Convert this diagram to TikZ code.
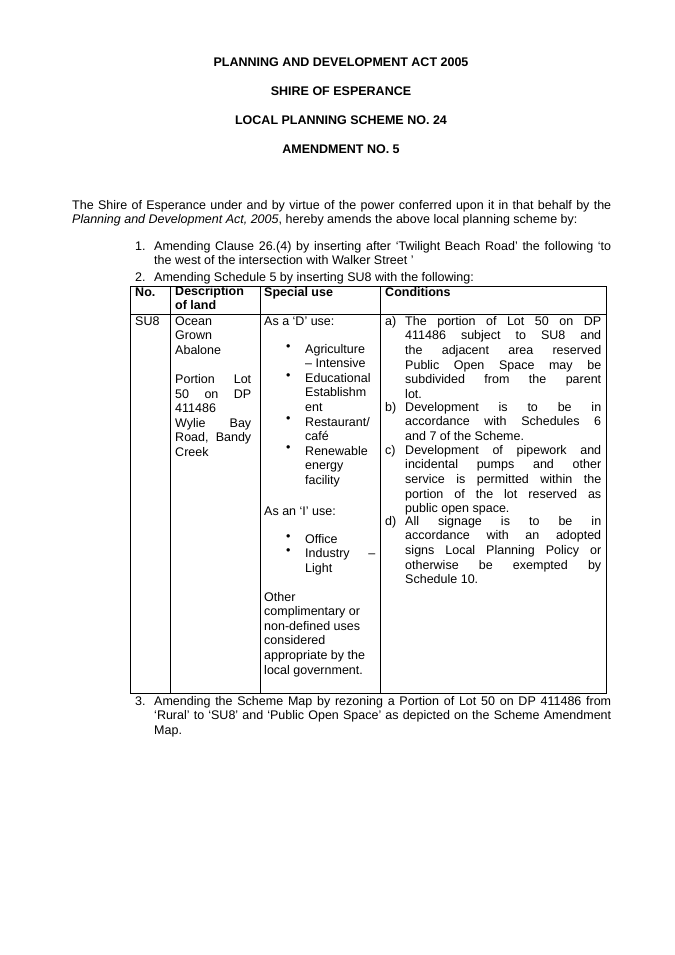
\documentclass[tikz,border=0pt]{standalone}
\usepackage{fontspec}
\setmainfont{Liberation Sans}
\usetikzlibrary{positioning}
\begin{document}
\begin{tikzpicture}[
    x=0.88pt, y=-0.88pt,
    font=\fontsize{11pt}{12.8pt}\selectfont,
    title/.style={font=\fontsize{11pt}{12.8pt}\selectfont\bfseries, anchor=center},
    para/.style={anchor=north west, inner sep=0pt, align=justify, execute at begin node=\strut},
    cell/.style={anchor=north west, inner sep=0pt, align=left, execute at begin node=\strut},
    head/.style={cell, font=\fontsize{11pt}{12.8pt}\selectfont\bfseries},
    grid/.style={line width=0.5pt}
]
\useasboundingbox (0,0) rectangle (675,955);

% headings
\node[title] (act) at (341,62) {PLANNING AND DEVELOPMENT ACT 2005};
\node[title] (shire) at (341,91) {SHIRE OF ESPERANCE};
\node[title] (scheme) at (341,120) {LOCAL PLANNING SCHEME NO. 24};
\node[title] (amend) at (341,149) {AMENDMENT NO. 5};

% intro
\node[para, text width=539*0.88pt] (intro) at (72,199) {The Shire of Esperance under and by virtue of the power conferred upon it in that behalf by the\linebreak \textit{Planning and Development Act, 2005}, hereby amends the above local planning scheme by:};

% items 1 and 2
\node[cell] (n1) at (135,240) {1.};
\node[para, text width=457*0.88pt] (item1) at (154,240) {Amending Clause 26.(4) by inserting after ‘Twilight Beach Road’ the following ‘to\linebreak the west of the intersection with Walker Street ’};
\node[cell] (n2) at (135,271) {2.};
\node[cell] (item2) at (154,271) {Amending Schedule 5 by inserting SU8 with the following:};

% table
\draw[grid] (130,286) rectangle (606,693);
\draw[grid] (130,314) -- (606,314);
\foreach \xc in {170,260,380} \draw[grid] (\xc,286) -- (\xc,693);

\node[head] (hno) at (135,286) {No.};
\node[head] (hdesc) at (175,286) {Description\\of land};
\node[head] (huse) at (264,286) {Special use};
\node[head] (hcond) at (385,286) {Conditions};

\node[cell] (su) at (135,315) {SU8};
\node[para, text width=76*0.88pt] (desc) at (175,315) {Ocean\\Grown\\Abalone\\[12.8pt]
Portion\hfill Lot\\50\hfill on\hfill DP\\411486\\Wylie\hfill Bay\\Road,\hfill Bandy\\Creek};

% special use
\node[cell] (duse) at (264,315) {As a ‘D’ use:};
\node[cell] (dbul) at (286,344) {\textbullet\\ \\\textbullet\\ \\ \\\textbullet\\ \\\textbullet};
\node[cell] (dlist) at (305,344) {Agriculture\\– Intensive\\Educational\\Establishm\\ent\\Restaurant/\\café\\Renewable\\energy\\facility};
\node[cell] (iuse) at (264,505) {As an ‘I’ use:};
\node[cell] (ibul) at (286,534) {\textbullet\\\textbullet};
\node[cell] (ilist) at (305,534) {Office\\Industry\hspace{1.5em}–\\Light};
\node[cell] (other) at (264,592) {Other\\complimentary or\\non-defined uses\\considered\\appropriate by the\\local government.};

% conditions
\foreach \lab/\yb in {a)/315, b)/401, c)/444, d)/515} \node[cell] at (385,\yb) {\lab};
\node[para, text width=196*0.88pt] (ca) at (405,315) {The portion of Lot 50 on DP\linebreak 411486 subject to SU8 and\linebreak the adjacent area reserved\linebreak Public Open Space may be\linebreak subdivided from the parent\linebreak lot.};
\node[para, text width=196*0.88pt] (cb) at (405,401) {Development is to be in\linebreak accordance with Schedules 6\linebreak and 7 of the Scheme.};
\node[para, text width=196*0.88pt] (cc) at (405,444) {Development of pipework and\linebreak incidental pumps and other\linebreak service is permitted within the\linebreak portion of the lot reserved as\linebreak public open space.};
\node[para, text width=196*0.88pt] (cd) at (405,515) {All signage is to be in\linebreak accordance with an adopted\linebreak signs Local Planning Policy or\linebreak otherwise be exempted by\linebreak Schedule 10.};

% item 3
\node[cell] (n3) at (135,695) {3.};
\node[para, text width=457*0.88pt] (item3) at (154,695) {Amending the Scheme Map by rezoning a Portion of Lot 50 on DP 411486 from\linebreak ‘Rural’ to ‘SU8’ and ‘Public Open Space’ as depicted on the Scheme Amendment\linebreak Map.};
\end{tikzpicture}
\end{document}
